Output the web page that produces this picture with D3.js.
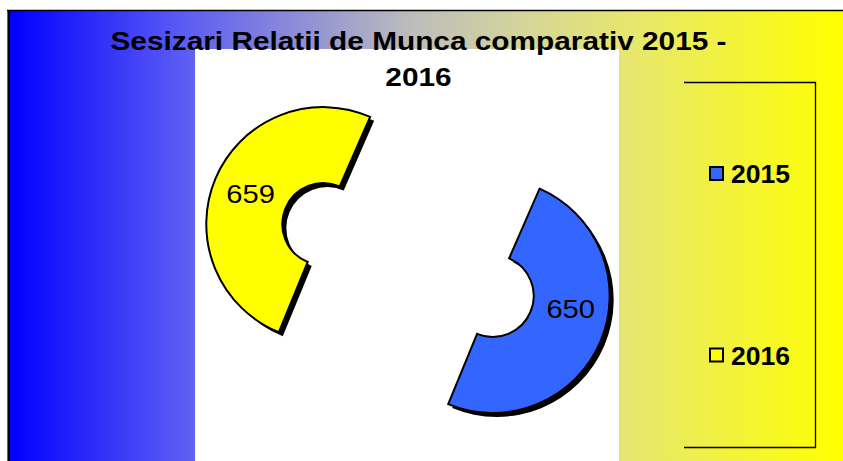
<!DOCTYPE html>
<html>
<head>
<meta charset="utf-8">
<script src="https://cdn.jsdelivr.net/npm/d3@7"></script>
<style>
  html, body { margin: 0; padding: 0; background: #ffffff; overflow: hidden; }
  svg { display: block; }
  text { font-family: "Liberation Sans", Arial, sans-serif; }
</style>
</head>
<body>
<script>
// ---- data ----
const categories = ["2015", "2016"];
const values = [650, 659];
const sliceColors = ["#3366ff", "#ffff00"];
const titleLines = ["Sesizari Relatii de Munca comparativ 2015 -", "2016"];

// ---- layout ----
const W = 843, H = 461;
const svg = d3.select("body").append("svg").attr("width", W).attr("height", H);
const defs = svg.append("defs");

const grad = defs.append("linearGradient").attr("id", "bg")
  .attr("gradientUnits", "userSpaceOnUse")
  .attr("x1", 10).attr("x2", 843).attr("y1", 0).attr("y2", 0);
[[10, "#0000ff"], [180, "#5a5af5"], [300, "#8e8ed6"], [410, "#bcbcbc"],
 [520, "#d4d49c"], [640, "#e8e86a"], [843, "#ffff00"]].forEach(([x, c]) => {
  grad.append("stop").attr("offset", (x - 10) / 833).attr("stop-color", c);
});

// chart area background
svg.append("rect").attr("x", 8).attr("y", 10).attr("width", W).attr("height", H)
  .attr("fill", "url(#bg)");
// borders (top and left visible)
svg.append("line").attr("x1", 7).attr("x2", W).attr("y1", 10.5).attr("y2", 10.5)
  .attr("stroke", "#000").attr("stroke-width", 1.5);
svg.append("line").attr("x1", 8.7).attr("x2", 8.7).attr("y1", 10).attr("y2", H)
  .attr("stroke", "#000").attr("stroke-width", 2.6);

// plot area
svg.append("rect").attr("x", 195).attr("y", 49).attr("width", 424).attr("height", H)
  .attr("fill", "#ffffff");

// title
const titleX = 418.5;
[50, 86].forEach((by, i) => {
  svg.append("text")
    .attr("transform", `translate(${titleX},${by}) scale(1.125,1)`)
    .attr("text-anchor", "middle")
    .attr("font-size", 26.5).attr("font-weight", "bold").attr("fill", "#000")
    .text(titleLines[i]);
});

// ---- doughnut ----
const cx = 408, cy = 260;
const outerR = 117, innerR = 41, explode = 92;
const startA = 23.6 * Math.PI / 180;
const pie = d3.pie().sort(null).value(d => d)
  .startAngle(startA).endAngle(startA + 2 * Math.PI);
const arc = d3.arc().innerRadius(innerR).outerRadius(outerR);
const arcs = pie(values);
const labelShift = [-14 * Math.PI / 180, 0];

const g = svg.append("g").attr("transform", `translate(${cx},${cy})`);
arcs.forEach((a, i) => {
  const mid = (a.startAngle + a.endAngle) / 2;
  const dx = Math.sin(mid) * explode, dy = -Math.cos(mid) * explode;
  const sg = g.append("g").attr("transform", `translate(${dx},${dy})`);
  sg.append("path").attr("d", arc(a)).attr("fill", "#000")
    .attr("transform", "translate(4,4)");
  sg.append("path").attr("d", arc(a)).attr("fill", sliceColors[i])
    .attr("stroke", "#000").attr("stroke-width", 2).attr("stroke-linejoin", "miter");
  const la = mid + labelShift[i];
  const lr = (innerR + outerR) / 2;
  const lx = Math.sin(la) * lr, ly = -Math.cos(la) * lr;
  sg.append("text")
    .attr("transform", `translate(${lx},${ly}) scale(1.1,1)`)
    .attr("text-anchor", "middle").attr("dy", "0.36em")
    .attr("font-size", 26.5).attr("fill", "#000")
    .text(values[i]);
});

// ---- legend ----
svg.append("path")
  .attr("d", "M684,82.5H815.5V447.5H684")
  .attr("fill", "none").attr("stroke", "#000").attr("stroke-width", 1.3);
const ly = d3.scalePoint().domain(categories).range([173.5, 355]);
categories.forEach((c, i) => {
  const y = ly(c);
  svg.append("rect").attr("x", 710).attr("y", y - 6.5).attr("width", 13).attr("height", 13)
    .attr("fill", sliceColors[i]).attr("stroke", "#000").attr("stroke-width", 2);
  svg.append("text").attr("x", 731).attr("y", y).attr("dy", "0.36em")
    .attr("font-size", 26.5).attr("font-weight", "bold").attr("fill", "#000")
    .text(c);
});
</script>
</body>
</html>
